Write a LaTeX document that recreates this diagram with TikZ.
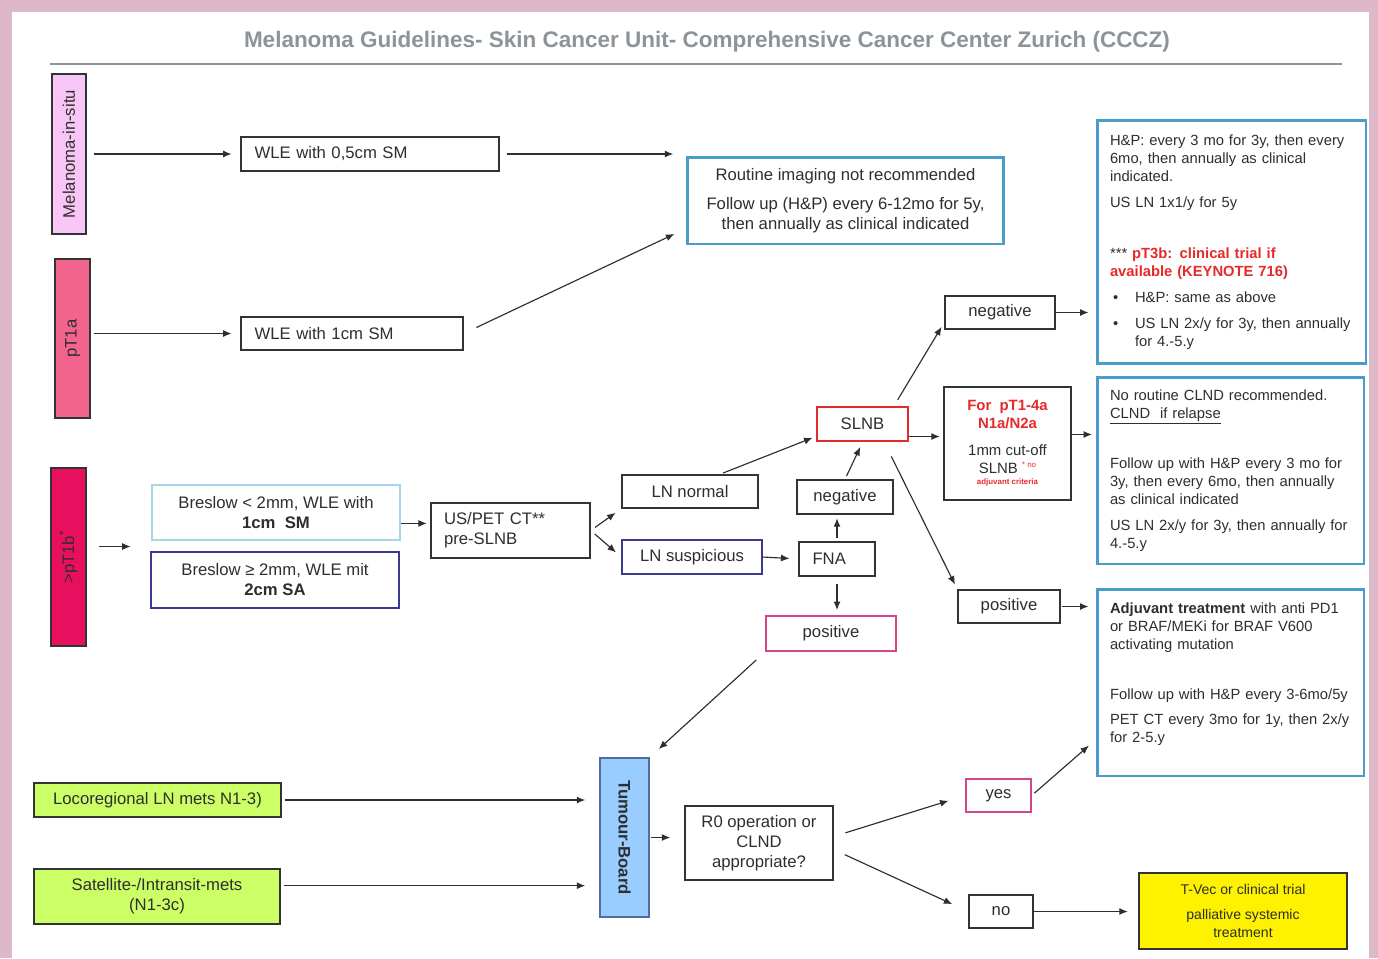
\documentclass[tikz,border=0pt]{standalone}
\usepackage{fontspec}
\setmainfont{Liberation Sans}
\usepackage{tikz}
\usetikzlibrary{calc,shapes,positioning}
\usetikzlibrary{arrows}
\usetikzlibrary{fit}
\usetikzlibrary{arrows.meta}
\tikzset{>={Latex[width=1.4mm,length=1.7mm]}}

\definecolor{framepink}{HTML}{DDB8C8}
\definecolor{titlegray}{HTML}{8C9499}
\definecolor{txt}{HTML}{2E2E2E}
\definecolor{boxline}{HTML}{333333}
\definecolor{insitupink}{HTML}{F8C6F6}
\definecolor{pinkA}{HTML}{F2648E}
\definecolor{pinkB}{HTML}{E8105E}
\definecolor{infoblue}{HTML}{4A9CC9}
\definecolor{alertred}{HTML}{E52A2A}
\definecolor{posmagenta}{HTML}{D4458A}
\definecolor{navy}{HTML}{3A3A90}
\definecolor{paleblue}{HTML}{A6D6E8}
\definecolor{limegreen}{HTML}{CCFF66}
\definecolor{boardblue}{HTML}{99CCFF}
\definecolor{boardline}{HTML}{4F6E9E}

\begin{document}
\begin{tikzpicture}[x=0.02cm,y=-0.02cm]
      \tikzstyle{bnode} = [draw=boxline, line width=0.8pt, rectangle, inner sep=0pt, align=center, text=txt, font=\fontsize{9.5}{11.4}\selectfont]
      \tikzstyle{lnode} = [bnode, align=left, inner xsep=0.27cm]
      \tikzstyle{stage} = [bnode, line width=1pt]
      \tikzstyle{info} = [draw=infoblue, line width=1.7pt, rectangle, inner xsep=0.26cm, inner ysep=0pt, align=left, text=txt, font=\fontsize{8.4}{10.2}\selectfont]
      \tikzstyle{flow} = [->, line width=0.65pt, draw=txt]

      % frame and title
      \useasboundingbox (0,0) rectangle (1378,958);
      \fill[framepink] (0,0) rectangle (1378,958);
      \fill[white] (12,12) rectangle (1369,958);
      \node[font=\bfseries\fontsize{12.8}{15}\selectfont, text=titlegray] (title) at (707,42) {Melanoma Guidelines- Skin Cancer Unit- Comprehensive Cancer Center Zurich (CCCZ)};
      \draw[titlegray, line width=0.9pt] (50,64) -- (1342,64);

      % stages
      \node[stage, fill=insitupink, minimum width=0.68cm, minimum height=3.2cm] (insitu) at (69,154) {\rotatebox{90}{Melanoma-in-situ}};
      \node[stage, fill=pinkA, minimum width=0.7cm, minimum height=3.18cm] (pt1a) at (72.5,338.5) {\rotatebox{90}{pT1a}};
      \node[stage, fill=pinkB, minimum width=0.7cm, minimum height=3.56cm] (pt1b) at (68.5,557) {\rotatebox{90}{>pT1b\textsuperscript{*}}};

      \node[lnode, text width=4.62cm, minimum height=0.68cm] (wle05) at (370,154) {WLE with 0,5cm SM};
      \node[lnode, text width=3.9cm, minimum height=0.66cm] (wle1) at (352,333.5) {WLE with 1cm SM};
      \node[bnode, draw=infoblue, line width=1.7pt, minimum width=6.34cm, minimum height=1.74cm] (routine) at (845.5,200.5) {Routine imaging not recommended\\[5pt] Follow up (H\&P) every 6-12mo for 5y,\\ then annually as clinical indicated};

      \node[bnode, draw=paleblue, minimum width=4.96cm, minimum height=1.1cm] (bresA) at (276,512.5) {Breslow < 2mm, WLE with\\ \textbf{1cm\ \ SM}};
      \node[bnode, draw=navy, minimum width=4.96cm, minimum height=1.12cm] (bresB) at (275,580) {Breslow ≥ 2mm, WLE mit\\ \textbf{2cm SA}};
      \node[fit=(bresA)(bresB), inner sep=0pt] (bres) {};
      \node[lnode, text width=2.66cm, inner xsep=0.26cm, minimum height=1.1cm] (uspet) at (510.5,530.5) {US/PET CT**\\ pre-SLNB};

      \node[bnode, minimum width=2.72cm, minimum height=0.66cm] (lnnormal) at (690,491.5) {LN normal};
      \node[bnode, draw=navy, minimum width=2.8cm, minimum height=0.68cm] (lnsusp) at (692,557) {LN suspicious};
      \node[lnode, text width=0.98cm, minimum height=0.68cm] (fna) at (837,559) {FNA};
      \node[bnode, minimum width=1.92cm, minimum height=0.68cm] (negmid) at (845,497) {negative};
      \node[bnode, draw=posmagenta, minimum width=2.6cm, minimum height=0.7cm] (pos) at (831,633.5) {positive};
      \node[bnode, draw=alertred, line width=1.4pt, minimum width=1.82cm, minimum height=0.68cm] (slnb) at (862.5,424) {SLNB};

      \node[bnode, minimum width=2.2cm, minimum height=0.66cm] (negtop) at (1000,312.5) {negative};
      \node[bnode, minimum width=2.54cm, minimum height=2.26cm, font=\fontsize{8.5}{10.2}\selectfont] (pt14) at (1007.5,443.5) {\textcolor{alertred}{\bfseries For\ \ pT1-4a}\\ \textcolor{alertred}{\bfseries N1a/N2a}\\[5pt] 1mm cut-off\\ SLNB \raisebox{3pt}{\color{alertred}\fontsize{4.5}{5}\selectfont * no}\\[-3.5pt] \textcolor{alertred}{\bfseries\fontsize{4.5}{5}\selectfont adjuvant criteria}};
      \node[bnode, minimum width=2.04cm, minimum height=0.66cm] (posright) at (1009,606.5) {positive};

      % recommendations
      \node[info, text width=4.86cm, minimum height=4.88cm] (box1) at (1231.5,242) {H\&P: every 3 mo for 3y, then every\\ 6mo, then annually as clinical\\ indicated.\\[4.5pt] US LN 1x1/y for 5y\\[19pt] *** \textcolor{alertred}{\bfseries pT3b: clinical trial if}\\ \textcolor{alertred}{\bfseries available (KEYNOTE 716)}\\[4.5pt] \makebox[0.5cm][l]{\hspace{0.06cm}•}H\&P: same as above\\[4.5pt] \makebox[0.5cm][l]{\hspace{0.06cm}•}US LN 2x/y for 3y, then annually\\ \hspace*{0.5cm}for 4.-5.y};
      \node[info, text width=4.82cm, minimum height=3.74cm] (box2) at (1230.5,470.5) {No routine CLND recommended.\\ \underline{CLND\ \ if relapse}\\[18.7pt] Follow up with H\&P every 3 mo for\\ 3y, then every 6mo, then annually\\ as clinical indicated\\[4.5pt] US LN 2x/y for 3y, then annually for\\ 4.-5.y};
      \node[info, text width=4.82cm, minimum height=3.74cm] (box3) at (1230.5,682.5) {\textbf{Adjuvant treatment} with anti PD1\\ or BRAF/MEKi for BRAF V600\\ activating mutation\\[18.7pt] Follow up with H\&P every 3-6mo/5y\\[4pt] PET CT every 3mo for 1y, then 2x/y\\ for 2-5.y\\[1pt]\mbox{}};

      % metastatic branch
      \node[bnode, fill=limegreen, minimum width=4.94cm, minimum height=0.68cm] (locoreg) at (157.5,800) {Locoregional LN mets N1-3)};
      \node[bnode, fill=limegreen, minimum width=4.92cm, minimum height=1.1cm] (satellite) at (157,896.5) {Satellite-/Intransit-mets\\ (N1-3c)};
      \node[bnode, draw=boardline, fill=boardblue, minimum width=0.98cm, minimum height=3.18cm] (tumour) at (624.5,837.5) {\rotatebox{-90}{\bfseries Tumour-Board}};
      \node[bnode, minimum width=2.96cm, minimum height=1.48cm] (r0) at (759,843) {R0 operation or\\ CLND\\ appropriate?};
      \node[bnode, draw=posmagenta, minimum width=1.3cm, minimum height=0.66cm] (yes) at (998.5,795.5) {yes};
      \node[bnode, minimum width=1.28cm, minimum height=0.66cm] (no) at (1001,911.5) {no};
      \node[bnode, fill=yellow, minimum width=4.16cm, minimum height=1.52cm, font=\fontsize{8}{10.2}\selectfont] (tvec) at (1243,911) {T-Vec or clinical trial\\[4.5pt] palliative systemic\\ treatment};

      \draw[flow, shorten <=4pt, shorten >=5pt] (insitu) -- (wle05);
      \draw[flow, shorten <=4pt, shorten >=7pt] (wle05.east) -- (wle05.east -| routine.west);
      \draw[flow, shorten <=2pt, shorten >=5pt] (pt1a.east |- wle1.west) -- (wle1.west);
      \draw[flow, shorten <=8pt, shorten >=7pt] (wle1.east) -- (routine.190);
      \draw[flow, shorten <=7pt, shorten >=11pt] (pt1b.east |- bres.west) -- (bres.west);
      \draw[flow, shorten >=2pt] (bresA.355) -- (bresA.355 -| uspet.west);
      \draw[flow, shorten <=3pt, shorten >=4pt] (uspet.east) -- (lnnormal.south west);
      \draw[flow, shorten <=3pt, shorten >=4pt] (uspet.east) -- (lnsusp.west);
      \draw[flow, shorten <=2pt, shorten >=2pt] (lnnormal.30) -- (slnb.195);
      \draw[flow, shorten >=5pt] (lnsusp.east) -- (fna.west);
      \draw[flow, shorten <=2pt, shorten >=2pt] (fna.north) -- (fna.north |- negmid.south);
      \draw[flow, shorten <=2pt, shorten >=3pt] (negmid.north) -- (slnb.south);
      \draw[flow, shorten <=4pt, shorten >=3pt] (fna.south) -- (fna.south |- pos.north);
      \draw[flow, shorten <=7pt, shorten >=7pt] (pos.south west) -- (tumour.north east);
      \draw[flow, shorten <=4pt, shorten >=3pt] (slnb.30) -- (negtop.190);
      \draw[flow, shorten >=2pt] (slnb.-15) -- (slnb.-15 -| pt14.west);
      \draw[flow, shorten <=9pt, shorten >=3pt] (slnb.-40) -- (posright.north west);
      \draw[flow, shorten >=4pt] (negtop.east) -- (negtop.east -| box1.west);
      \draw[flow, shorten >=2pt] (pt14.8) -- (pt14.8 -| box2.west);
      \draw[flow, shorten <=1pt, shorten >=4pt] (posright.east) -- (posright.east -| box3.west);
      \draw[flow, shorten <=2pt, shorten >=8pt] (locoreg.east) -- (locoreg.east -| tumour.west);
      \draw[flow, shorten <=2pt, shorten >=8pt] (satellite.5) -- (satellite.5 -| tumour.west);
      \draw[flow, shorten <=1pt, shorten >=8pt] (tumour.east) -- (tumour.east -| r0.west);
      \draw[flow, shorten <=7pt, shorten >=10pt] (r0.5) -- (yes.west);
      \draw[flow, shorten <=7pt, shorten >=10pt] (r0.-5) -- (no.west);
      \draw[flow, shorten <=2pt, shorten >=5pt] (yes.east) -- (box3.203);
      \draw[flow, shorten >=6pt] (no.east) -- (no.east -| tvec.west);
\end{tikzpicture}
\end{document}
